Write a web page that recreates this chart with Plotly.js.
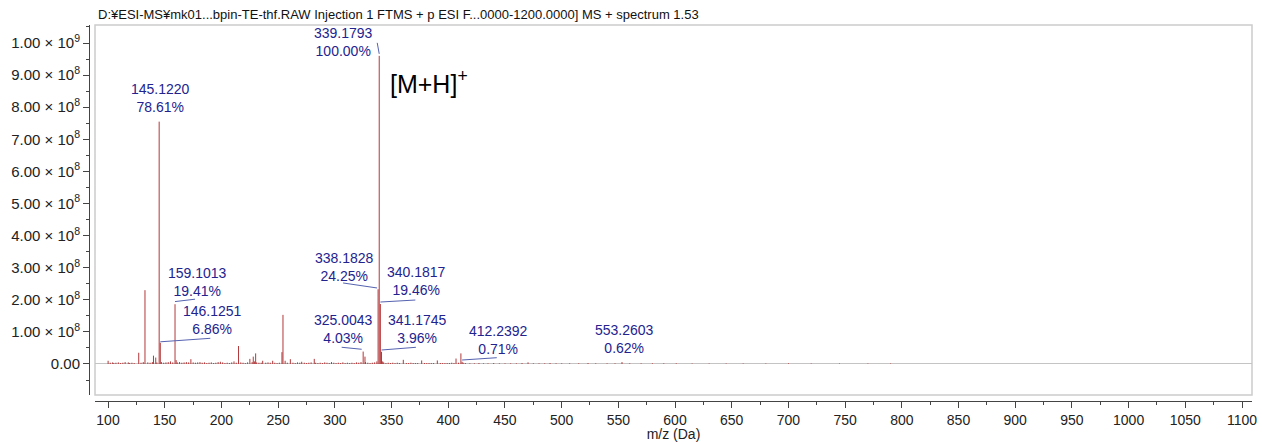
<!DOCTYPE html>
<html>
<head>
<meta charset="utf-8">
<script src="https://cdn.plot.ly/plotly-3.0.1.min.js"></script>
<style>html,body{margin:0;padding:0;background:#fff;}#chart{width:1262px;height:442px;}</style>
</head>
<body>
<div id="chart"></div>
<script>
// ---- Data (m/z, intensity in counts) ----
const mz = [
  100.1,102.0,104.1,105.1,107.0,109.1,111.1,113.1,115.1,117.9,119.1,121.1,123.1,127.1,129.1,131.1,132.6,135.1,137.1,139.1,
  140.1,142.1,143.1,145.1220,146.1251,147.1,149.1,151.1,153.1,155.1,157.1,159.1013,160.1,161.1,163.1,165.1,167.1,169.1,171.1,173.1,
  175.1,177.1,179.1,181.1,183.1,185.1,187.1,189.1,191.1,193.1,195.1,197.1,199.1,201.1,203.1,205.1,207.1,209.1,211.1,213.1,
  215.1,217.1,219.1,221.1,223.1,225.1,227.1,228.1,229.1,230.2,231.1,233.1,235.1,236.4,239.1,241.1,243.1,245.2,247.1,249.1,
  251.1,253.4,254.3,256.2,258.1,260.8,263.1,265.1,267.1,269.1,270.8,273.1,275.1,277.1,279.1,281.9,283.1,285.1,287.1,289.1,
  291.1,293.1,295.1,297.1,299.1,301.1,303.1,305.1,307.1,309.1,311.1,313.1,315.1,317.1,319.1,321.1,323.1,325.0043,326.6,327.1,
  329.1,331.1,333.1,335.1,337.1,338.1828,339.1793,340.1817,341.1745,342.2,343.1,345.1,347.1,349.1,351.1,353.1,355.1,357.1,360.4,363.1,
  365.1,367.1,369.1,371.1,373.1,376.6,379.1,381.1,383.1,385.1,387.1,390.4,393.1,395.1,397.1,399.1,401.1,403.1,405.1,406.9,
  409.1,411.2,412.2392,413.2,415.1,419.1,423.1,427.1,431.1,435.1,440.1,445.1,450.1,455.1,460.1,465.1,470.4,475.1,480.1,485.1,
  489.8,495.1,500.1,507.1,515.1,523.3,530.1,540.1,547.1,553.2603,560.1,570.1,580.1,590.1,601.1,615.1,630.1,645.1,660.1,680.1,
  700.1,720.1,745.1,770.1,790.1
];
const intensity = [
  1.0e7,4e6,5e6,3e6,4e6,5e6,3e6,4e6,6e6,5e6,3e6,4e6,3e6,3.5e7,4e6,6e6,2.3e8,5e6,4e6,6e6,
  2.6e7,2.0e7,5e6,7.55e8,6.6e7,6e6,4e6,5e6,6e6,8e6,5e6,1.863e8,1.2e7,5e6,6e6,4e6,5e6,6e6,5e6,1.5e7,
  5e6,4e6,5e6,6e6,4e6,5e6,3e6,4e6,5e6,3e6,4e6,6e6,7e6,5e6,3e6,4e6,3e6,5e6,8e6,4e6,
  5.6e7,5e6,4e6,3e6,5e6,1.6e7,6e6,2.3e7,8e6,3.3e7,5e6,4e6,4e6,1.0e7,4e6,5e6,4e6,1.0e7,4e6,3e6,
  4e6,3.7e7,1.53e8,1.0e7,4e6,1.5e7,4e6,3e6,5e6,4e6,7e6,4e6,3e6,4e6,5e6,1.6e7,4e6,3e6,4e6,3e6,
  5e6,4e6,3e6,6e6,4e6,3e6,4e6,3e6,5e6,3e6,4e6,3e6,4e6,3e6,5e6,4e6,6e6,3.87e7,2.3e7,6e6,
  4e6,3e6,4e6,5e6,8e6,2.328e8,9.6e8,1.868e8,3.8e7,8e6,5e6,3e6,4e6,3e6,4e6,3e6,4e6,3e6,1.3e7,3e6,
  3e6,4e6,3e6,3e6,3e6,1.1e7,3e6,3e6,3e6,3e6,3e6,1.1e7,3e6,3e6,3e6,3e6,3e6,4e6,3e6,1.7e7,
  4e6,3.3e7,6.8e6,4e6,3e6,2e6,2e6,3e6,2e6,2e6,3e6,2e6,2e6,2e6,2e6,3e6,5e6,2e6,2e6,2e6,
  3e6,2e6,2e6,2e6,2e6,3e6,2e6,2e6,2e6,5.95e6,2e6,2e6,2e6,2e6,2e6,1.5e6,1.5e6,1.5e6,1.5e6,1.5e6,
  2e6,1.5e6,1.5e6,1.5e6,1.5e6
];
// Labelled peaks
const labelMz  = [339.1793, 145.1220, 159.1013, 146.1251, 338.1828, 340.1817, 325.0043, 341.1745, 412.2392, 553.2603];
const labelPct = [100.00, 78.61, 19.41, 6.86, 24.25, 19.46, 4.03, 3.96, 0.71, 0.62];
const yTickVals = [0, 1e8, 2e8, 3e8, 4e8, 5e8, 6e8, 7e8, 8e8, 9e8, 1e9];
const yTickText = ['0.00','1.00 × 10<sup>8</sup>','2.00 × 10<sup>8</sup>','3.00 × 10<sup>8</sup>','4.00 × 10<sup>8</sup>',
  '5.00 × 10<sup>8</sup>','6.00 × 10<sup>8</sup>','7.00 × 10<sup>8</sup>','8.00 × 10<sup>8</sup>','9.00 × 10<sup>8</sup>','1.00 × 10<sup>9</sup>'];
const xTickVals = [100,150,200,250,300,350,400,450,500,550,600,650,700,750,800,850,900,950,1000,1050,1100];
const titleText = 'D:¥ESI-MS¥mk01...bpin-TE-thf.RAW Injection 1 FTMS + p ESI F...0000-1200.0000] MS + spectrum 1.53';
const ionLabel = '[M+H]<sup>+</sup>';

// ---- Label placement (pixel offsets from the peak top) ----
const labelShift = [[-36,14.3],[1.8,23.6],[22,22.6],[52.3,22.8],[-33.6,22.3],[36.3,23],[-19.9,22.6],[35.7,22.8],[36.3,22.3],[2,22.6]];
const leader = [[-2,13,0,2],null,[0,2.6,20,5],[0,1,50,4.5],[-35,6.3,-1,1.3],[0,2,35,4],[-21.5,4.3,-1.5,2.3],[0,1.8,34.4,4.5],[0,1.8,34.7,4.1],null];

const peakColor = '#b3383a';
const labelColor = '#23238f';
const leaderColor = '#5563b0';

const sx = [], sy = [];
mz.forEach((m, i) => { sx.push(m, m, null); sy.push(0, intensity[i], null); });

const heightOf = m => intensity[mz.indexOf(m)];

const annotations = labelMz.map((m, i) => ({
  x: m, y: heightOf(m), xref: 'x', yref: 'y',
  text: m.toFixed(4) + '<br>' + labelPct[i].toFixed(2) + '%',
  showarrow: false, xanchor: 'center', yanchor: 'middle',
  xshift: labelShift[i][0], yshift: labelShift[i][1],
  font: {family: 'Liberation Sans, Arial, sans-serif', size: 14, color: labelColor}
}));
annotations.push({
  x: labelMz[0], y: heightOf(labelMz[0]), xref: 'x', yref: 'y',
  text: ionLabel, showarrow: false, xanchor: 'left', yanchor: 'middle',
  xshift: 9, yshift: -26,
  font: {family: 'Liberation Sans, Arial, sans-serif', size: 25, color: '#000'}
});

const xDom0 = 6 / 1163, yDom0 = 6 / 376;
const shapes = [{
  type: 'rect', xref: 'paper', yref: 'paper', x0: xDom0, x1: 1, y0: yDom0, y1: 1,
  line: {color: '#cccccc', width: 1.5}, layer: 'below'
}];
labelMz.forEach((m, i) => {
  const l = leader[i];
  if (!l) return;
  shapes.push({
    type: 'line', xref: 'x', yref: 'y', xsizemode: 'pixel', ysizemode: 'pixel',
    xanchor: m, yanchor: heightOf(m), x0: l[0], y0: l[1], x1: l[2], y1: l[3],
    line: {color: leaderColor, width: 1}
  });
});

const data = [{
  type: 'scatter', mode: 'lines', x: sx, y: sy, connectgaps: false,
  line: {color: peakColor, width: 1}, hoverinfo: 'skip'
}];

const axisFont = {family: 'Liberation Sans, Arial, sans-serif', size: 15, color: '#222'};
const layout = {
  width: 1262, height: 442,
  margin: {l: 89, r: 10, t: 25, b: 41, pad: 0},
  paper_bgcolor: '#fff', plot_bgcolor: '#fff',
  showlegend: false,
  title: {text: titleText, x: 98 / 1262, xanchor: 'left', xref: 'container', y: 1 - 14 / 442, yanchor: 'middle', yref: 'container',
          font: {family: 'Liberation Sans, Arial, sans-serif', size: 13, color: '#111'}},
  xaxis: {
    domain: [xDom0, 1], range: [88.54, 1108.8], anchor: 'free', position: 0,
    showline: true, linecolor: '#444', linewidth: 1, showgrid: false, zeroline: false,
    tickmode: 'array', tickvals: xTickVals, ticks: 'outside', ticklen: 6, tickcolor: '#444',
    tickfont: {family: 'Liberation Sans, Arial, sans-serif', size: 14, color: '#222'},
    minor: {dtick: 25, tick0: 0, ticks: 'outside', ticklen: 3, tickcolor: '#444', showgrid: false},
    title: {text: 'm/z (Da)', standoff: 4, font: {family: 'Liberation Sans, Arial, sans-serif', size: 14, color: '#222'}},
    automargin: false
  },
  yaxis: {
    domain: [yDom0, 1], range: [-0.0966e9, 1.0561e9], anchor: 'free', position: 0,
    showline: true, linecolor: '#444', linewidth: 1, showgrid: false,
    zeroline: true, zerolinecolor: '#c4c4c4', zerolinewidth: 1,
    tickmode: 'array', tickvals: yTickVals, ticktext: yTickText, ticks: 'outside', ticklen: 6, tickcolor: '#444',
    tickfont: axisFont,
    minor: {dtick: 5e7, tick0: 0, ticks: 'outside', ticklen: 3, tickcolor: '#444', showgrid: false},
    automargin: false
  },
  annotations: annotations,
  shapes: shapes
};

Plotly.newPlot('chart', data, layout, {displayModeBar: false, staticPlot: true});
</script>
</body>
</html>
